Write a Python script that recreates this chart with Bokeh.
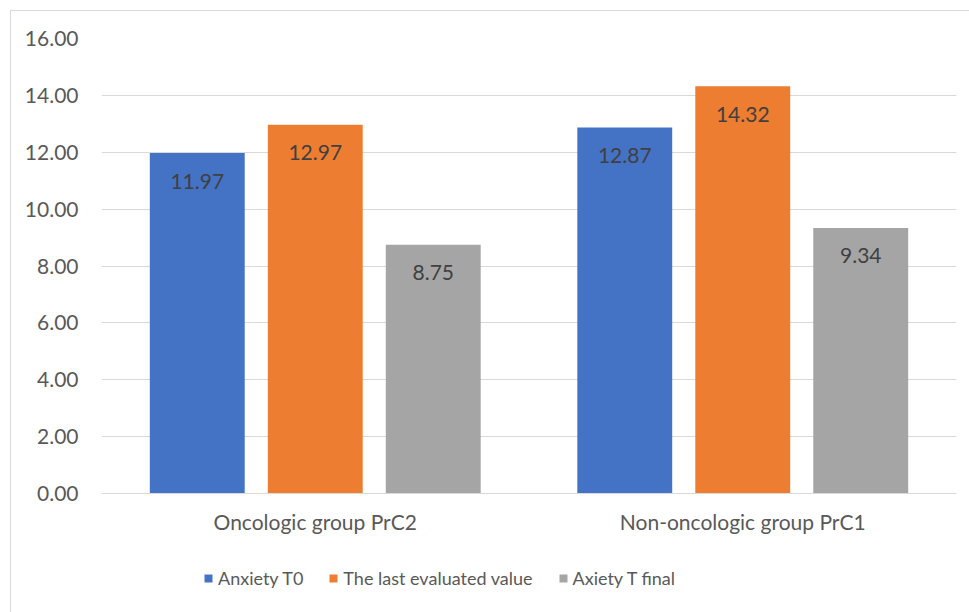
from bokeh.plotting import figure
from bokeh.layouts import column
from bokeh.models import ColumnDataSource, FactorRange, Range1d, SingleIntervalTicker, NumeralTickFormatter, Legend, LegendItem
from bokeh.transform import dodge
from bokeh.core.properties import value
from bokeh.embed import file_html
from bokeh.resources import INLINE

categories = ["Oncologic group PrC2", "Non-oncologic group PrC1"]
series_names = ["Anxiety T0", "The last evaluated value", "Axiety T final"]
anxiety_t0 = [11.97, 12.87]
last_value = [12.97, 14.32]
anxiety_final = [8.75, 9.34]

colors = ["#4472C4", "#ED7D31", "#A5A5A5"]
offsets = [-0.276, 0.0, 0.276]
keys = ["s0", "s1", "s2"]
FONT = "Lato"
BORDER = "1px solid #d9d9d9"

src = ColumnDataSource(data=dict(
    cat=categories,
    s0=anxiety_t0,
    s1=last_value,
    s2=anxiety_final,
    l0=[f"{v:.2f}" for v in anxiety_t0],
    l1=[f"{v:.2f}" for v in last_value],
    l2=[f"{v:.2f}" for v in anxiety_final],
))

p = figure(width=959, height=550, x_range=FactorRange(*categories, range_padding=0),
           y_range=Range1d(0, 16), output_backend="svg", toolbar_location=None,
           min_border_left=90, min_border_top=27, min_border_right=14, min_border_bottom=68)
p.margin = (10, 0, 0, 10)
p.styles = {"border-top": BORDER, "border-left": BORDER}
p.outline_line_color = None
p.background_fill_color = "white"

for i, key in enumerate(keys):
    p.vbar(x=dodge("cat", offsets[i], range=p.x_range), top=key, width=0.222,
           source=src, fill_color=colors[i], line_color=None)
    p.text(x=dodge("cat", offsets[i], range=p.x_range), y=key, text="l" + key[1],
           source=src, text_align="center", text_baseline="middle", y_offset=28,
           text_font=value(FONT), text_font_size="21px", text_color="#404040")

p.yaxis.ticker = SingleIntervalTicker(interval=2)
p.yaxis.formatter = NumeralTickFormatter(format="0.00")
p.yaxis.axis_line_color = None
p.yaxis.major_tick_line_color = None
p.yaxis.minor_tick_line_color = None
p.yaxis.major_label_text_font = FONT
p.yaxis.major_label_text_font_size = "21px"
p.yaxis.major_label_text_color = "#595959"
p.yaxis.major_label_standoff = 17

p.xaxis.axis_line_color = "#d9d9d9"
p.xaxis.major_tick_line_color = None
p.xaxis.minor_tick_line_color = None
p.xaxis.major_label_text_font = FONT
p.xaxis.major_label_text_font_size = "21px"
p.xaxis.major_label_text_color = "#595959"
p.xaxis.major_label_standoff = 9

p.xgrid.grid_line_color = None
p.ygrid.grid_line_color = "#d9d9d9"
p.ygrid.ticker = SingleIntervalTicker(interval=2)

# legend strip below the chart (bars drawn out of view, only their legend swatches show)
p2 = figure(width=959, height=52, output_backend="svg", toolbar_location=None,
            x_axis_location=None, y_axis_location=None, min_border=0,
            x_range=FactorRange(*categories), y_range=Range1d(100, 101))
p2.margin = (0, 0, 0, 10)
p2.styles = {"border-left": BORDER}
p2.outline_line_color = None
p2.grid.visible = False
swatches = [p2.vbar(x=dodge("cat", offsets[i], range=p2.x_range), top=keys[i], width=0.222,
                    source=src, fill_color=colors[i], line_color=None) for i in range(3)]

legend = Legend(items=[LegendItem(label=series_names[i], renderers=[swatches[i]]) for i in range(3)],
                orientation="horizontal", location=(102, 23),
                label_text_font=FONT, label_text_font_size="18px", label_text_color="#595959",
                glyph_width=10, glyph_height=10, spacing=25, label_standoff=5,
                border_line_color=None, background_fill_alpha=0, padding=4, margin=0)
p2.add_layout(legend, "center")

layout = column(p, p2, spacing=0)
open("out.html", "w").write(file_html(layout, INLINE))
